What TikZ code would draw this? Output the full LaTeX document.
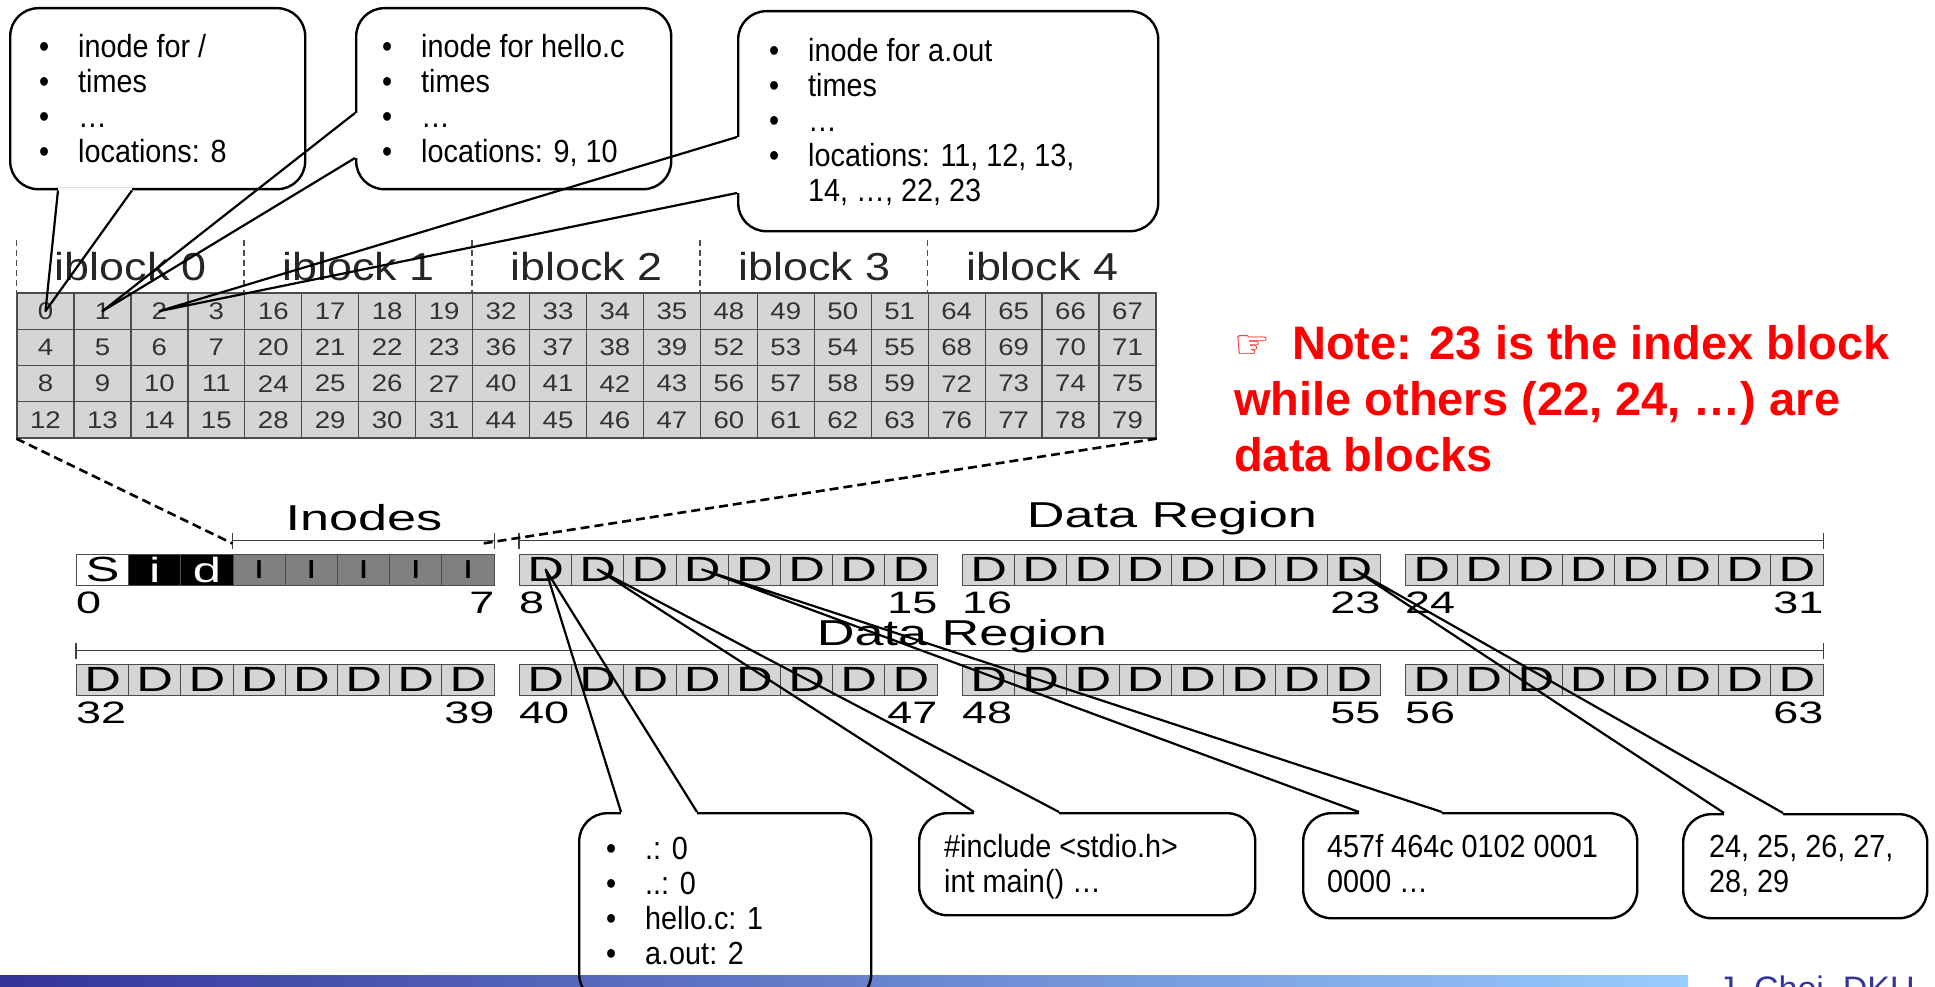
\documentclass[tikz,border=0pt]{standalone}
\usepackage{fontspec}
\setmainfont{Liberation Sans}
\newfontfamily\blockfont{Liberation Sans}[FakeStretch=1.45]
\newfontfamily\gridfont{Liberation Sans}[FakeStretch=1.15]
\newfontfamily\callfont{Liberation Sans}[FakeStretch=0.9]
\newfontfamily\handfont{DejaVu Sans}
\usetikzlibrary{positioning}

\definecolor{cellgray}{RGB}{213,213,213}
\definecolor{inodegray}{RGB}{128,128,128}
\definecolor{footdark}{RGB}{51,51,153}
\definecolor{footlight}{RGB}{153,204,255}
\definecolor{notered}{RGB}{255,0,0}

\newcommand{\bul}{\makebox[39pt][l]{•}}

\tikzset{
  gcell/.style={draw=black!70, line width=1.3pt, fill=cellgray, minimum width=56.95pt, minimum height=36.25pt,
                inner sep=0pt, text=black!80, font=\gridfont\fontsize{24}{24}\selectfont},
  ilabel/.style={font=\gridfont\fontsize{39}{39}\selectfont, text=black!85},
  bcell/.style={draw=black!70, line width=1pt, fill=cellgray, minimum width=52.2pt, minimum height=31pt,
                inner sep=0pt, font=\blockfont\fontsize{35}{35}\selectfont},
  numlbl/.style={inner sep=0pt, font=\blockfont\fontsize{31}{31}\selectfont},
  rlabel/.style={font=\blockfont\fontsize{36}{36}\selectfont},
  brk/.style={line width=1.4pt, draw=black!75},
  zoomline/.style={line width=2.6pt, dash pattern=on 9pt off 5pt},
  sepline/.style={line width=1.6pt, dash pattern=on 6pt off 4pt, draw=black!70},
  callbox/.style={draw, line width=2.4pt, rounded corners=28pt, anchor=north west, inner sep=0pt},
  calltext/.style={anchor=base west, inner sep=0pt, font=\callfont\fontsize{32}{35}\selectfont},
  tail/.style={line width=2.2pt, line join=round},
  erasegap/.style={draw=white, line width=5pt},
  note/.style={anchor=base west, inner sep=0pt, text=notered, font=\bfseries\fontsize{47}{56}\selectfont},
}

\begin{document}
\begin{tikzpicture}[x=1pt, y=-1pt]
  \useasboundingbox (0,0) rectangle (1935,987);
  \fill[white] (0,0) rectangle (1935,987);

  % inode table
  \foreach \g in {0,...,4}{
    \foreach \r in {0,...,3}{
      \foreach \c in {0,...,3}{
        \pgfmathtruncatemacro{\n}{16*\g+4*\r+\c}
        \node[gcell] (c\n) at ({17+56.95*(4*\g+\c+0.5)},{293+36.25*(\r+0.5)}) {\n};
      }
    }
    \pgfmathtruncatemacro{\n}{16*\g}
    \draw[sepline] ([yshift=52pt]c\n.north west) -- (c\n.north west);
    \node[ilabel] (ib\g) at ({17+227.8*\g+113.9},267) {iblock \g};
  }

  % disk blocks
  \foreach \n in {0,...,63}{
    \pgfmathtruncatemacro{\rw}{\n/32}
    \pgfmathtruncatemacro{\gp}{mod(\n,32)/8}
    \pgfmathtruncatemacro{\kk}{mod(\n,8)}
    \coordinate (p\n) at ({76.5+443*\gp+52.2*(\kk+0.5)},{569.5+110*\rw});
  }
  \node[bcell, fill=white] (b0) at (p0) {S};
  \node[bcell, fill=black, text=white] (b1) at (p1) {i};
  \node[bcell, fill=black, text=white] (b2) at (p2) {d};
  \foreach \n in {3,...,7}
    \node[bcell, fill=inodegray, font=\blockfont\fontsize{26}{26}\selectfont] (b\n) at (p\n) {I};
  \foreach \n in {8,...,63}
    \node[bcell] (b\n) at (p\n) {D};

  \foreach \s/\e in {0/7,8/15,16/23,24/31,32/39,40/47,48/55,56/63}{
    \node[numlbl, anchor=north west] (n\s) at ([yshift=-6pt]b\s.south west) {\s};
    \node[numlbl, anchor=north east] (n\e) at ([yshift=-6pt]b\e.south east) {\e};
  }

  % region brackets
  \foreach \a/\z in {3/7,8/31,32/63}{
    \draw[brk] ([yshift=13pt]b\a.north west) -- ([yshift=13pt]b\z.north east);
    \draw[brk] ([yshift=5pt]b\a.north west) -- ([yshift=21pt]b\a.north west);
    \draw[brk] ([yshift=5pt]b\z.north east) -- ([yshift=21pt]b\z.north east);
  }
  \node[rlabel] (inodes) at (364,518) {Inodes};
  \node[rlabel] (data1) at (1172,518) {Data Region};
  \node[rlabel] (data2) at (962,636) {Data Region};

  \draw[zoomline] (c12.south west) -- ([yshift=10pt]b3.north west);
  \draw[zoomline] (c79.south east) -- ([xshift=-12pt,yshift=10pt]b7.north east);

  % note
  \node[note] (note) at (1234,359) {\begin{tabular}[t]{@{}l@{}}%
    \makebox[58pt][l]{\raisebox{1pt}{\mdseries\handfont\fontsize{40}{40}\selectfont ☞}}Note: 23 is the index block\\
    while others (22, 24, …) are\\
    data blocks\end{tabular}};

  % footer
  \shade[left color=footdark, right color=footlight] (0,975) rectangle (1688,992);
  \node[anchor=north west, inner sep=0pt, text=footdark, font=\fontsize{34}{34}\selectfont] (author) at (1718,976) {J. Choi, DKU};

  % callouts on the inode table
  \node[callbox, minimum width=295pt, minimum height=181pt] (ino1) at (9,7) {};
  \node[calltext] (ino1txt) at (39,58) {\begin{tabular}[t]{@{}l@{}}\bul inode for /\\ \bul times\\ \bul …\\ \bul locations: 8\end{tabular}};
  \draw[erasegap] ([xshift=49pt]ino1.south west) -- ([xshift=123pt]ino1.south west);
  \draw[tail] ([xshift=49pt]ino1.south west) -- (c0.center) -- ([xshift=123pt]ino1.south west);

  \node[callbox, minimum width=315pt, minimum height=181pt] (ino2) at (355,7) {};
  \node[calltext] (ino2txt) at (382,58) {\begin{tabular}[t]{@{}l@{}}\bul inode for hello.c\\ \bul times\\ \bul …\\ \bul locations: 9, 10\end{tabular}};
  \draw[erasegap] ([yshift=-106pt]ino2.north west) -- ([yshift=-151pt]ino2.north west);
  \draw[tail] ([yshift=-106pt]ino2.north west) -- (c1.center) -- ([yshift=-151pt]ino2.north west);

  \node[callbox, minimum width=420pt, minimum height=220pt] (ino3) at (737,10) {};
  \node[calltext] (ino3txt) at (769,62) {\begin{tabular}[t]{@{}l@{}}\bul inode for a.out\\ \bul times\\ \bul …\\ \bul locations: 11, 12, 13,\\ \makebox[39pt]{}14, …, 22, 23\end{tabular}};
  \draw[erasegap] ([yshift=-127pt]ino3.north west) -- ([yshift=-183pt]ino3.north west);
  \draw[tail] ([yshift=-127pt]ino3.north west) -- (c2.center) -- ([yshift=-183pt]ino3.north west);

  % callouts on the data blocks
  \node[callbox, minimum width=292pt, minimum height=189pt] (dirbox) at (578,812) {};
  \node[calltext] (dirtxt) at (606,859) {\begin{tabular}[t]{@{}l@{}}\bul .: 0\\ \bul ..: 0\\ \bul hello.c: 1\\ \bul a.out: 2\end{tabular}};
  \draw[erasegap] ([xshift=43pt]dirbox.north west) -- ([xshift=119pt]dirbox.north west);
  \draw[tail] ([xshift=43pt]dirbox.north west) -- (b8.center) -- ([xshift=119pt]dirbox.north west);

  \node[callbox, minimum width=336pt, minimum height=102pt] (srcbox) at (918,812) {};
  \node[calltext] (srctxt) at (944,857) {\begin{tabular}[t]{@{}l@{}}\#include <stdio.h>\\ int main() …\end{tabular}};
  \draw[erasegap] ([xshift=56pt]srcbox.north west) -- ([xshift=141pt]srcbox.north west);
  \draw[tail] ([xshift=56pt]srcbox.north west) -- (b9.center) -- ([xshift=141pt]srcbox.north west);

  \node[callbox, minimum width=334pt, minimum height=105pt] (binbox) at (1302,812) {};
  \node[calltext] (bintxt) at (1327,857) {\begin{tabular}[t]{@{}l@{}}457f 464c 0102 0001\\ 0000 …\end{tabular}};
  \draw[erasegap] ([xshift=57pt]binbox.north west) -- ([xshift=140pt]binbox.north west);
  \draw[tail] ([xshift=57pt]binbox.north west) -- (b11.center) -- ([xshift=140pt]binbox.north west);

  \node[callbox, minimum width=244pt, minimum height=104pt] (idxbox) at (1682,813) {};
  \node[calltext] (idxtxt) at (1709,857) {\begin{tabular}[t]{@{}l@{}}24, 25, 26, 27,\\ 28, 29\end{tabular}};
  \draw[erasegap] ([xshift=42pt]idxbox.north west) -- ([xshift=101pt]idxbox.north west);
  \draw[tail] ([xshift=42pt]idxbox.north west) -- (b23.center) -- ([xshift=101pt]idxbox.north west);
\end{tikzpicture}
\end{document}
